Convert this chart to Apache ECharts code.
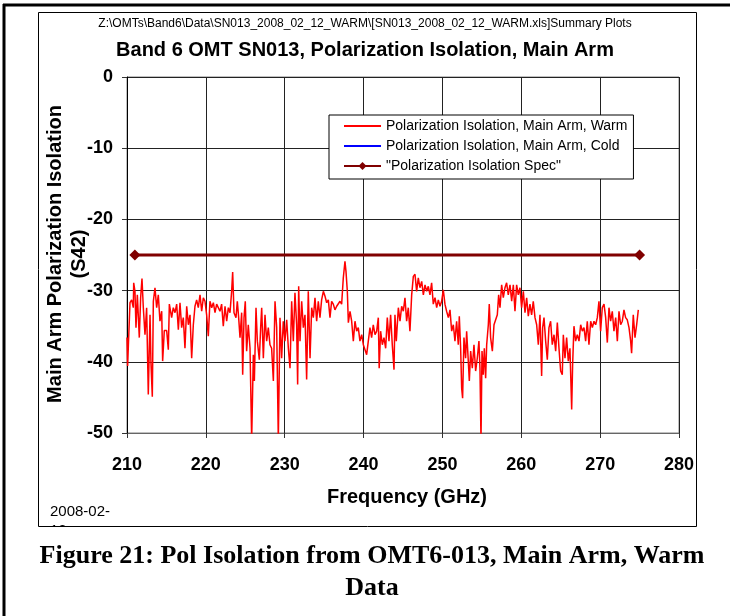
<!DOCTYPE html>
<html>
<head>
<meta charset="utf-8">
<title>Band 6 OMT SN013, Polarization Isolation, Main Arm</title>
<script src="https://cdn.jsdelivr.net/npm/echarts@6/dist/echarts.min.js"></script>
<style>
  html, body { margin: 0; padding: 0; background: #fff; }
  #chart { width: 730px; height: 616px; }
</style>
</head>
<body>
<div id="chart"></div>
<script>
var freqGHz = [
  210.0, 210.08, 210.17, 210.38, 210.59, 210.80, 210.85, 211.01, 211.14, 211.31, 211.56, 211.73, 211.90,
  212.07, 212.28, 212.49, 212.70, 212.92, 213.04, 213.21, 213.34, 213.55, 213.76, 213.97, 214.18, 214.40,
  214.52, 214.73, 215.03, 215.24, 215.37, 215.66, 215.87, 216.09, 216.30, 216.51, 216.72, 216.93, 217.14,
  217.35, 217.57, 217.78, 217.99, 218.20, 218.41, 218.62, 218.83, 219.04, 219.26, 219.47, 219.68, 219.89,
  220.10, 220.31, 220.52, 220.74, 220.95, 221.16, 221.37, 221.58, 221.79, 222.00, 222.21, 222.43, 222.64,
  222.85, 223.06, 223.27, 223.40, 223.57, 223.82, 223.99, 224.16, 224.33, 224.54, 224.67, 224.84, 225.00,
  225.17, 225.38, 225.60, 225.81, 226.02, 226.15, 226.36, 226.53, 226.78, 226.95, 227.08, 227.29, 227.50,
  227.71, 227.92, 228.13, 228.34, 228.56, 228.77, 228.98, 229.19, 229.40, 229.61, 229.82, 230.03, 230.25,
  230.46, 230.67, 230.88, 231.09, 231.30, 231.51, 231.64, 231.77, 231.94, 232.15, 232.36, 232.57, 232.78,
  232.99, 233.21, 233.42, 233.63, 233.84, 234.05, 234.26, 234.47, 234.68, 234.90, 235.11, 235.32, 235.53,
  235.74, 235.95, 236.16, 236.37, 236.59, 236.80, 237.01, 237.22, 237.43, 237.64, 237.77, 237.94, 238.07,
  238.28, 238.49, 238.70, 238.91, 239.12, 239.33, 239.54, 239.76, 239.97, 240.18, 240.39, 240.60, 240.81,
  241.02, 241.23, 241.45, 241.66, 241.87, 241.98, 242.16, 242.38, 242.59, 242.80, 243.01, 243.22, 243.43,
  243.64, 243.86, 243.98, 244.15, 244.41, 244.62, 244.83, 245.04, 245.25, 245.46, 245.67, 245.88, 246.10,
  246.31, 246.52, 246.73, 246.94, 247.15, 247.37, 247.58, 247.79, 248.00, 248.21, 248.42, 248.63, 248.84,
  249.06, 249.27, 249.48, 249.69, 249.90, 250.11, 250.32, 250.53, 250.75, 250.96, 251.17, 251.38, 251.59,
  251.80, 252.01, 252.14, 252.31, 252.44, 252.56, 252.73, 252.94, 253.07, 253.28, 253.41, 253.58, 253.79,
  254.00, 254.21, 254.42, 254.63, 254.76, 254.89, 255.02, 255.18, 255.31, 255.48, 255.61, 255.82, 255.94,
  256.11, 256.33, 256.54, 256.75, 256.96, 257.13, 257.30, 257.51, 257.72, 257.93, 258.14, 258.35, 258.57,
  258.78, 258.99, 259.20, 259.41, 259.62, 259.83, 260.04, 260.26, 260.47, 260.68, 260.89, 261.10, 261.31,
  261.52, 261.74, 261.95, 262.16, 262.37, 262.58, 262.71, 262.88, 263.09, 263.30, 263.51, 263.72, 263.93,
  264.15, 264.36, 264.57, 264.78, 264.99, 265.20, 265.33, 265.54, 265.75, 265.96, 266.17, 266.39, 266.51,
  266.68, 266.89, 267.10, 267.32, 267.53, 267.74, 267.95, 268.16, 268.37, 268.58, 268.80, 269.01, 269.22,
  269.43, 269.64, 269.85, 270.06, 270.27, 270.49, 270.70, 270.91, 271.12, 271.33, 271.54, 271.75, 271.97,
  272.18, 272.39, 272.60, 272.81, 273.02, 273.23, 273.44, 273.66, 273.87, 273.99, 274.20, 274.42, 274.63,
  274.84
];

// S42 main arm isolation, warm (dB)
var warmIsolationDb = [
  -36.6, -40.6, -37.8, -31.7, -31.3, -32.4, -28.9, -30.1, -35.2, -30.6, -36.6, -31.0, -28.3,
  -32.4, -36.2, -32.4, -44.6, -33.4, -40.2, -44.9, -31.5, -29.6, -32.4, -30.6, -34.3, -32.9,
  -39.9, -35.6, -35.6, -38.3, -31.9, -33.8, -32.4, -33.1, -31.9, -35.5, -31.7, -35.2, -33.8,
  -38.1, -32.2, -34.8, -33.4, -39.5, -34.8, -32.2, -31.3, -32.4, -30.6, -32.9, -31.0, -31.5,
  -33.4, -36.4, -31.5, -32.4, -31.7, -33.1, -31.9, -31.9, -32.9, -31.9, -35.0, -32.2, -34.3,
  -32.4, -33.1, -30.1, -27.4, -33.1, -33.8, -31.5, -33.8, -36.6, -33.1, -41.8, -33.8, -31.5,
  -38.5, -34.8, -38.1, -51.0, -39.0, -42.7, -32.4, -37.1, -39.7, -35.2, -32.4, -39.5, -33.4,
  -37.1, -35.2, -37.6, -38.1, -42.7, -31.5, -35.2, -51.0, -33.8, -39.5, -34.3, -37.1, -34.1,
  -38.1, -40.9, -31.5, -37.1, -30.3, -34.8, -43.2, -29.4, -37.1, -31.5, -35.2, -33.4, -42.5,
  -30.1, -39.5, -32.4, -33.8, -31.0, -34.3, -31.5, -33.8, -31.3, -30.1, -30.8, -31.7, -31.3,
  -33.8, -31.5, -31.9, -32.7, -32.2, -32.4, -31.5, -31.9, -28.2, -25.9, -27.3, -30.1, -34.5,
  -32.9, -34.3, -37.1, -34.3, -35.7, -35.2, -37.1, -36.2, -37.6, -37.6, -39.0, -37.1, -35.2,
  -36.6, -34.8, -36.2, -35.7, -33.8, -40.9, -35.7, -37.6, -36.6, -38.1, -33.8, -37.1, -33.4,
  -37.6, -41.1, -33.4, -37.1, -32.4, -34.3, -32.2, -32.9, -31.0, -34.3, -32.4, -35.7, -30.6,
  -28.0, -27.7, -30.1, -28.2, -29.6, -28.7, -30.6, -29.2, -30.1, -29.4, -30.6, -28.9, -31.9,
  -31.0, -32.4, -31.3, -32.2, -31.5, -29.9, -31.9, -32.9, -33.8, -32.7, -35.7, -34.8, -37.1,
  -34.3, -37.6, -33.6, -38.1, -43.7, -45.1, -36.6, -39.5, -35.7, -39.9, -42.7, -38.5, -40.9,
  -37.6, -41.3, -39.5, -37.1, -40.9, -51.0, -38.5, -41.8, -38.1, -42.3, -37.6, -34.8, -31.9,
  -36.6, -38.5, -34.8, -35.0, -33.4, -30.6, -32.4, -29.2, -31.0, -29.6, -28.9, -30.6, -29.2,
  -31.5, -29.2, -32.9, -29.2, -30.6, -29.6, -32.4, -30.1, -33.1, -31.0, -33.6, -31.9, -33.4,
  -31.5, -33.8, -34.8, -37.6, -33.4, -42.0, -35.2, -33.8, -37.1, -39.7, -35.2, -34.3, -37.6,
  -36.2, -38.5, -34.5, -38.1, -41.3, -41.8, -36.2, -39.5, -36.6, -39.9, -38.1, -46.7, -40.4,
  -35.0, -37.1, -36.2, -37.1, -34.8, -35.7, -35.2, -37.1, -34.3, -37.6, -34.3, -35.2, -34.3,
  -34.8, -33.8, -31.5, -35.7, -32.4, -31.9, -33.8, -37.3, -32.4, -34.3, -32.9, -35.7, -33.8,
  -37.1, -32.9, -34.8, -34.3, -32.7, -33.8, -34.1, -35.2, -37.1, -38.8, -33.4, -36.6, -34.8,
  -32.7
];

// spec line end points
var specFreqGHz = [211, 275];
var specDb = [-25, -25];

var xTicks = [210, 220, 230, 240, 250, 260, 270, 280];
var yTicks = [0, -10, -20, -30, -40, -50];

var seriesNames = [
  'Polarization Isolation, Main Arm, Warm',
  'Polarization Isolation, Main Arm, Cold',
  '"Polarization Isolation Spec"'
];

function pairs(xs, ys) {
  return xs.map(function (x, i) { return [x, ys[i]]; });
}

var chart = echarts.init(document.getElementById('chart'), null, { renderer: 'canvas' });

var font = 'Arial, "Liberation Sans", sans-serif';
var serif = '"Liberation Serif", "Times New Roman", serif';

chart.setOption({
  backgroundColor: '#fff',
  animation: false,
  textStyle: { fontFamily: font, color: '#000' },
  title: [
    {
      text: 'Z:\\OMTs\\Band6\\Data\\SN013_2008_02_12_WARM\\[SN013_2008_02_12_WARM.xls]Summary Plots',
      left: 'center',
      top: 13,
      textStyle: { fontSize: 12, fontWeight: 'normal', color: '#000', fontFamily: font }
    },
    {
      text: 'Band 6 OMT SN013, Polarization Isolation, Main Arm',
      left: 'center',
      top: 35,
      textStyle: { fontSize: 20, fontWeight: 'bold', color: '#000', fontFamily: font }
    }
  ],
  legend: {
    orient: 'vertical',
    left: 329,
    top: 115,
    padding: [4, 6, 6, 14],
    itemWidth: 37,
    itemHeight: 10,
    itemGap: 6,
    backgroundColor: '#fff',
    borderColor: '#000',
    borderWidth: 1,
    borderRadius: 0,
    textStyle: { fontSize: 14, color: '#000', fontFamily: font },
    data: [
      // no marker on the two measured traces, only the line
      { name: seriesNames[0], itemStyle: { opacity: 0 } },
      { name: seriesNames[1], itemStyle: { opacity: 0 } },
      { name: seriesNames[2] }
    ]
  },
  grid: { left: 127, top: 77, right: 51, bottom: 183, show: true, borderColor: '#808080', borderWidth: 1 },
  xAxis: {
    type: 'value',
    min: xTicks[0],
    max: xTicks[xTicks.length - 1],
    interval: 10,
    axisLine: { show: true, onZero: false, lineStyle: { color: '#666', width: 1 } },
    axisTick: { show: true, inside: false, length: 5, lineStyle: { color: '#333' } },
    axisLabel: { fontSize: 18, fontWeight: 'bold', color: '#000', margin: 23, fontFamily: font },
    splitLine: { show: true, lineStyle: { color: '#222', width: 1 } }
  },
  yAxis: {
    type: 'value',
    min: yTicks[yTicks.length - 1],
    max: yTicks[0],
    interval: 10,
    axisLine: { show: true, onZero: false, lineStyle: { color: '#000', width: 1 } },
    axisTick: { show: true, inside: false, length: 5, lineStyle: { color: '#333' } },
    axisLabel: { fontSize: 18, fontWeight: 'bold', color: '#000', margin: 14, fontFamily: font },
    splitLine: { show: true, lineStyle: { color: '#222', width: 1 } }
  },
  series: [
    {
      name: seriesNames[0],
      type: 'line',
      data: pairs(freqGHz, warmIsolationDb),
      symbol: 'none',
      clip: true,
      color: '#ff0000',
      lineStyle: { color: '#ff0000', width: 1.5 },
      z: 3
    },
    {
      name: seriesNames[1],
      type: 'line',
      data: [],
      symbol: 'none',
      color: '#0000ff',
      lineStyle: { color: '#0000ff', width: 1 }
    },
    {
      name: seriesNames[2],
      type: 'line',
      data: pairs(specFreqGHz, specDb),
      symbol: 'diamond',
      symbolSize: 11,
      color: '#800000',
      itemStyle: { color: '#800000' },
      lineStyle: { color: '#800000', width: 3 },
      z: 4
    }
  ],
  graphic: [
    // outer page frame (top + left)
    { type: 'line', shape: { x1: 3, y1: 5, x2: 730, y2: 5 }, style: { stroke: '#000', lineWidth: 3 }, z: 100 },
    { type: 'line', shape: { x1: 4, y1: 4, x2: 4, y2: 616 }, style: { stroke: '#000', lineWidth: 3 }, z: 100 },
    // y axis title
    {
      type: 'text',
      x: 67,
      y: 254,
      rotation: Math.PI / 2,
      style: {
        text: 'Main Arm Polarization Isolation\n(S42)',
        font: 'bold 20px ' + font,
        fill: '#000',
        align: 'center',
        verticalAlign: 'middle',
        lineHeight: 24
      }
    },
    // x axis title
    {
      type: 'text',
      x: 407,
      y: 497,
      style: { text: 'Frequency (GHz)', font: 'bold 20px ' + font, fill: '#000', align: 'center', verticalAlign: 'middle' }
    },
    // date stamp, cut off by the chart frame
    {
      type: 'text',
      x: 50,
      y: 502,
      style: { text: '2008-02-\n12', font: '15px ' + font, fill: '#000', align: 'left', verticalAlign: 'top', lineHeight: 19 },
      z: 10
    },
    { type: 'rect', shape: { x: 39, y: 527, width: 200, height: 14 }, style: { fill: '#fff' }, z: 20 },
    // chart frame
    { type: 'rect', shape: { x: 38.5, y: 12.5, width: 658, height: 514 }, style: { fill: null, stroke: '#000', lineWidth: 1 }, z: 30 },
    // caption
    {
      type: 'text',
      x: 372,
      y: 556,
      style: { text: 'Figure 21: Pol Isolation from OMT6-013, Main Arm, Warm', font: 'bold 26px ' + serif, fill: '#000', align: 'center', verticalAlign: 'middle' }
    },
    {
      type: 'text',
      x: 372,
      y: 588,
      style: { text: 'Data', font: 'bold 26px ' + serif, fill: '#000', align: 'center', verticalAlign: 'middle' }
    }
  ]
});
</script>
</body>
</html>
